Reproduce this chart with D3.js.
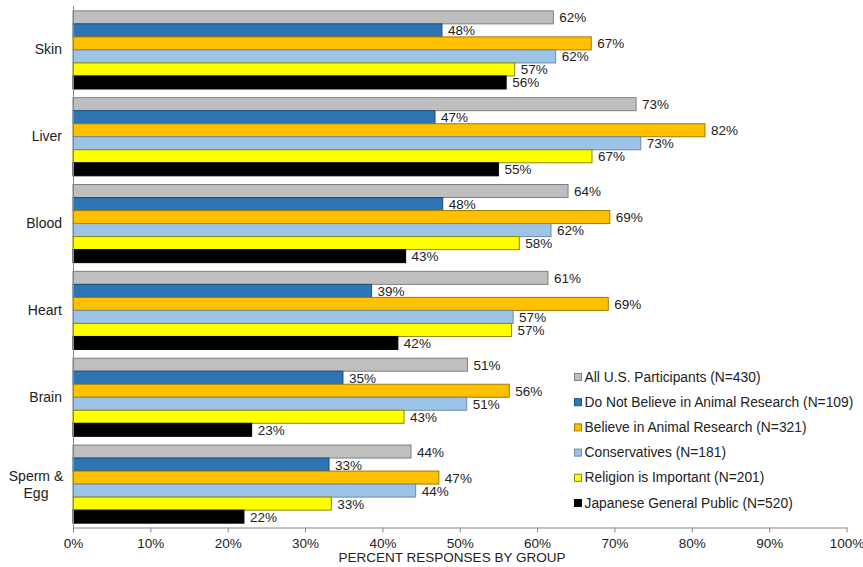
<!DOCTYPE html>
<html>
<head>
<meta charset="utf-8">
<script src="https://cdn.jsdelivr.net/npm/d3@7"></script>
<style>
  body { margin: 0; background: #fff; }
  svg { font-family: "Liberation Sans", Arial, sans-serif; }
</style>
</head>
<body>
<div id="chart"></div>
<script>
const categories = ["Skin", "Liver", "Blood", "Heart", "Brain", "Sperm & Egg"];
const seriesNames = [
    "All U.S. Participants (N=430)",
    "Do Not Believe in Animal Research (N=109)",
    "Believe in Animal Research (N=321)",
    "Conservatives (N=181)",
    "Religion is Important (N=201)",
    "Japanese General Public (N=520)"
];
// one array per series, in category order
const allUS       = [62.1, 72.8, 64.0, 61.4, 51.0, 43.7];
const notBelieve  = [47.7, 46.8, 47.8, 38.6, 34.9, 33.1];
const believe     = [67.0, 81.7, 69.4, 69.2, 56.4, 47.3];
const conservs    = [62.4, 73.4, 61.8, 56.9, 50.9, 44.3];
const religion    = [57.1, 67.1, 57.7, 56.7, 42.8, 33.4];
const japanese    = [56.0, 55.0, 43.0, 42.0, 23.1, 22.1];
const xTicks = [0, 10, 20, 30, 40, 50, 60, 70, 80, 90, 100];

const fills   = ["#bfbfbf", "#2e75b6", "#ffc000", "#9dc3e6", "#ffff00", "#000000"];
const strokes = ["#7f7f7f", "#1f4e79", "#a07a00", "#6f8aa6", "#8a8a00", "#000000"];

const seriesValues = [allUS, notBelieve, believe, conservs, religion, japanese];

const width = 863, height = 567;
const margin = { top: 6, right: 16, bottom: 40, left: 73 };
const fs = 13.5;

const svg = d3.select("#chart").append("svg")
    .attr("width", width)
    .attr("height", height);

const x = d3.scaleLinear().domain([0, 100]).range([margin.left, width - margin.right - 0.5]);
const y = d3.scaleBand().domain(categories).range([margin.top, height - margin.bottom]).paddingInner(0.1).paddingOuter(0.05);
const ySub = d3.scaleBand().domain(d3.range(seriesNames.length)).range([0, y.bandwidth()]);

// bars
const groups = svg.append("g")
    .selectAll("g")
    .data(categories)
    .join("g")
    .attr("transform", d => `translate(0,${y(d)})`);

groups.each(function(cat, ci) {
    const g = d3.select(this);
    seriesValues.forEach((vals, si) => {
        const v = vals[ci];
        g.append("rect")
            .attr("x", x(0))
            .attr("y", ySub(si) + 0.5)
            .attr("width", x(v) - x(0))
            .attr("height", ySub.bandwidth())
            .attr("fill", fills[si])
            .attr("stroke", strokes[si])
            .attr("stroke-width", 1);
        g.append("text")
            .attr("x", x(v) + 6)
            .attr("y", ySub(si) + ySub.bandwidth() / 2 + 1)
            .attr("dominant-baseline", "central")
            .attr("font-size", fs)
            .attr("fill", "#222")
            .text(Math.round(v) + "%");
    });
});

// x axis
const xAxis = svg.append("g")
    .attr("transform", `translate(0,${height - margin.bottom + 0.5})`)
    .call(d3.axisBottom(x).tickValues(xTicks).tickFormat(d => d + "%").tickSize(5).tickSizeOuter(0));
xAxis.select(".domain").attr("stroke", "#868686");
xAxis.selectAll(".tick line").attr("stroke", "#868686");
xAxis.selectAll(".tick text").attr("font-size", fs).attr("fill", "#222").attr("dy", "0.95em")
    .attr("font-family", "Liberation Sans, Arial, sans-serif");

// y axis line
svg.append("line")
    .attr("x1", x(0) + 0.5).attr("x2", x(0) + 0.5)
    .attr("y1", margin.top).attr("y2", height - margin.bottom + 0.5)
    .attr("stroke", "#868686");

// category labels
svg.append("g")
    .selectAll("text")
    .data(categories)
    .join("text")
    .attr("text-anchor", "middle")
    .attr("font-size", 14)
    .attr("fill", "#222")
    .each(function(d) {
        const t = d3.select(this);
        const cy = y(d) + y.bandwidth() / 2;
        if (d === "Sperm & Egg") {
            t.append("tspan").attr("x", 36).attr("y", cy - 3).text("Sperm &");
            t.append("tspan").attr("x", 36).attr("y", cy + 14).text("Egg");
        } else {
            t.attr("x", 62).attr("y", cy + 5).attr("text-anchor", "end").text(d);
        }
    });

// axis title
svg.append("text")
    .attr("x", 452)
    .attr("y", 562)
    .attr("text-anchor", "middle")
    .attr("font-size", fs)
    .attr("fill", "#222")
    .text("PERCENT RESPONSES BY GROUP");

// legend
const legend = svg.append("g")
    .selectAll("g")
    .data(seriesNames)
    .join("g")
    .attr("transform", (d, i) => `translate(574,${377 + i * 25.2})`);

legend.append("rect")
    .attr("x", 0.5).attr("y", -3.5)
    .attr("width", 7).attr("height", 7)
    .attr("fill", (d, i) => fills[i])
    .attr("stroke", (d, i) => strokes[i]);

legend.append("text")
    .attr("x", 10.5)
    .attr("y", 0)
    .attr("dominant-baseline", "central")
    .attr("font-size", 13.8)
    .attr("fill", "#222")
    .text(d => d);
</script>
</body>
</html>
